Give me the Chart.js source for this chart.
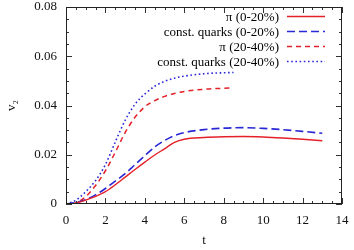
<!DOCTYPE html>
<html>
<head>
<meta charset="utf-8">
<script src="https://cdn.jsdelivr.net/npm/chart.js@4/dist/chart.umd.min.js"></script>
<style>
html,body{margin:0;padding:0;background:#fff;}
#wrap{width:354px;height:250px;}
</style>
</head>
<body>
<div id="wrap"><canvas id="c" width="354" height="250"></canvas></div>
<script>
// ---- data ----
const labels = ["π (0-20%)", "const. quarks (0-20%)", "π (20-40%)", "const. quarks (20-40%)"];

const tPi020 = [0, 0.3, 0.5, 1, 1.5, 2, 2.5, 3, 3.5, 4, 4.5, 5, 5.5, 6, 7, 8, 9, 10, 11, 12, 13];
const vPi020 = [0, 0, 0.0004, 0.0016, 0.0031, 0.005, 0.0078, 0.0109, 0.014, 0.017, 0.0199, 0.0224, 0.025, 0.0263, 0.027, 0.0273, 0.0274, 0.0272, 0.0268, 0.0263, 0.0257];

const tQ020 = [0, 0.5, 1, 1.5, 2, 2.5, 3, 3.5, 4, 4.5, 5, 5.5, 6, 7, 8, 9, 10, 11, 12, 13];
const vQ020 = [0, 0.0006, 0.0018, 0.0037, 0.0063, 0.0093, 0.0123, 0.016, 0.0196, 0.0232, 0.0258, 0.0278, 0.029, 0.0302, 0.0308, 0.031, 0.0307, 0.0302, 0.0295, 0.0287];

const tPi2040 = [0.3, 0.5, 1, 1.5, 2, 2.5, 3, 3.5, 4, 4.5, 5, 5.5, 6, 7, 8, 8.4];
const vPi2040 = [0, 0.0004, 0.003, 0.0075, 0.0135, 0.021, 0.029, 0.0352, 0.0395, 0.042, 0.0437, 0.0449, 0.0457, 0.0466, 0.047, 0.0471];

const tQ2040 = [0, 0.5, 1, 1.5, 2, 2.5, 3, 3.5, 4, 4.5, 5, 5.5, 6, 7, 8, 8.5];
const vQ2040 = [0, 0.0015, 0.005, 0.0095, 0.016, 0.0252, 0.034, 0.0405, 0.0447, 0.0478, 0.0498, 0.0511, 0.0519, 0.0529, 0.0533, 0.0534];

const xTicks = [0, 2, 4, 6, 8, 10, 12, 14];
const yTicks = [0, 0.02, 0.04, 0.06, 0.08];

const RED = 'rgb(228,32,40)';
const BLUE = 'rgb(40,40,215)';
const FONT = '"Liberation Serif", "Times New Roman", serif';

function pts(t, v) { return t.map((x, i) => ({x: x, y: v[i]})); }

// inward ticks, frame and right-aligned legend (gnuplot style)
const gnuplotStyle = {
  id: 'gnuplotStyle',
  afterDraw(chart) {
    const ctx = chart.ctx;
    const a = chart.chartArea;
    const xs = chart.scales.x, ys = chart.scales.y;
    ctx.save();
    ctx.strokeStyle = '#333';
    ctx.lineWidth = 1;
    ctx.beginPath();
    for (let v = 0; v <= 14.0001; v += 0.5) {
      const px = Math.round(xs.getPixelForValue(v)) + 0.5;
      const len = (Math.abs(v / 2 - Math.round(v / 2)) < 1e-6) ? 6 : 3;
      ctx.moveTo(px, a.bottom); ctx.lineTo(px, a.bottom - len);
      ctx.moveTo(px, a.top); ctx.lineTo(px, a.top + len);
    }
    for (let i = 0; i <= 16; i++) {
      const v = i * 0.005;
      const py = Math.round(ys.getPixelForValue(v)) + 0.5;
      const len = (i % 4 === 0) ? 6 : 3;
      ctx.moveTo(a.left, py); ctx.lineTo(a.left + len, py);
      ctx.moveTo(a.right, py); ctx.lineTo(a.right - len, py);
    }
    ctx.stroke();
    ctx.strokeStyle = '#222';
    ctx.strokeRect(Math.round(a.left) + 0.5, Math.round(a.top) + 0.5,
                   Math.round(a.right - a.left) - 1, Math.round(a.bottom - a.top) - 1);
    // legend
    ctx.font = '13px ' + FONT;
    ctx.textAlign = 'right';
    ctx.textBaseline = 'middle';
    chart.data.datasets.forEach((ds, i) => {
      const y = 16.5 + i * 15;
      ctx.fillStyle = '#000';
      ctx.fillText(ds.label, 279, y + 1);
      ctx.beginPath();
      ctx.strokeStyle = ds.borderColor;
      ctx.lineWidth = ds.borderWidth;
      ctx.setLineDash(ds.borderDash || []);
      ctx.moveTo(287, y); ctx.lineTo(325, y);
      ctx.stroke();
      ctx.setLineDash([]);
    });
    ctx.restore();
  }
};

function noPad(s) { s.paddingTop = 0; s.paddingBottom = 0; s.paddingLeft = 0; s.paddingRight = 0; }

new Chart(document.getElementById('c'), {
  type: 'line',
  data: {
    datasets: [
      {label: labels[0], data: pts(tPi020, vPi020), borderColor: RED, borderWidth: 1.4, borderDash: []},
      {label: labels[1], data: pts(tQ020, vQ020), borderColor: BLUE, borderWidth: 1.6, borderDash: [8, 4]},
      {label: labels[2], data: pts(tPi2040, vPi2040), borderColor: RED, borderWidth: 1.5, borderDash: [5, 4]},
      {label: labels[3], data: pts(tQ2040, vQ2040), borderColor: BLUE, borderWidth: 1.6, borderDash: [1.6, 2.6]}
    ]
  },
  options: {
    responsive: false,
    animation: false,
    devicePixelRatio: 1,
    layout: {padding: {top: 7, right: 12, left: 0, bottom: 0}},
    elements: {point: {radius: 0}, line: {cubicInterpolationMode: 'monotone', fill: false}},
    plugins: {legend: {display: false}, tooltip: {enabled: false}},
    scales: {
      x: {
        type: 'linear', min: 0, max: 14,
        afterFit(s) { s.height = 46; noPad(s); },
        afterBuildTicks(s) { s.ticks = xTicks.map(v => ({value: v})); },
        grid: {display: false, drawTicks: false},
        border: {display: false},
        ticks: {color: '#111', font: {family: FONT, size: 13}, padding: 9, maxRotation: 0},
        title: {display: true, text: 't', color: '#111', font: {family: FONT, size: 13}, padding: {top: 0, bottom: 2}}
      },
      y: {
        type: 'linear', min: 0, max: 0.08,
        afterFit(s) { s.width = 66; noPad(s); },
        afterBuildTicks(s) { s.ticks = yTicks.map(v => ({value: v})); },
        grid: {display: false, drawTicks: false},
        border: {display: false},
        ticks: {color: '#111', font: {family: FONT, size: 13}, padding: 9,
                callback: v => v === 0 ? '0' : v.toFixed(2)},
        title: {display: true, text: 'v₂', color: '#111', font: {family: FONT, size: 13}, padding: {top: 4, bottom: 0}}
      }
    }
  },
  plugins: [gnuplotStyle]
});
</script>
</body>
</html>
